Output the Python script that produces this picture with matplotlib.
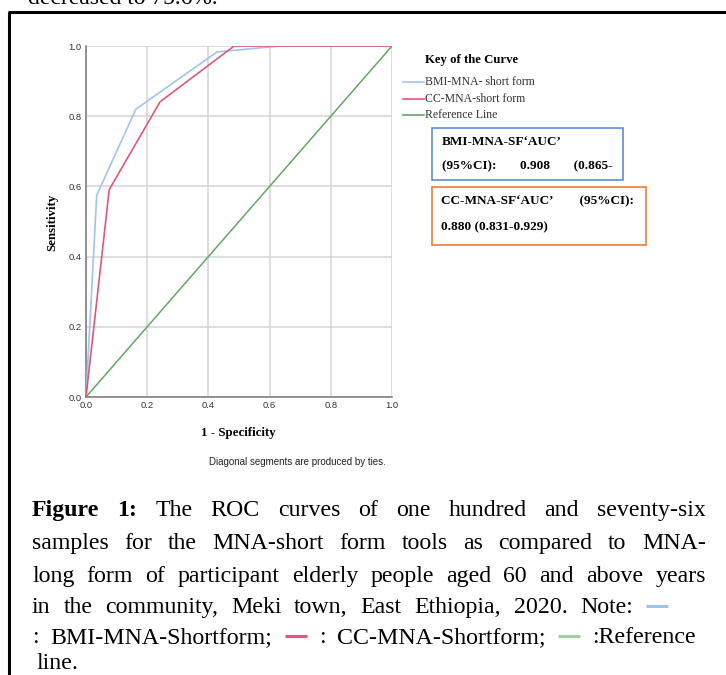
import matplotlib
matplotlib.use("Agg")
import matplotlib.pyplot as plt
import numpy as np

# ROC points
fpr_bmi = [0.0, 0.035, 0.163, 0.428, 0.634, 1.0]
tpr_bmi = [0.0, 0.575, 0.820, 0.983, 1.0, 1.0]
fpr_cc = [0.0, 0.076, 0.242, 0.484, 1.0]
tpr_cc = [0.0, 0.591, 0.841, 1.0, 1.0]
ref_line = [0.0, 1.0]

ticks = [0.0, 0.2, 0.4, 0.6, 0.8, 1.0]
tick_labels = ["0.0", "0.2", "0.4", "0.6", "0.8", "1.0"]

legend_names = ["BMI-MNA- short form", "CC-MNA-short form", "Reference Line"]
col_bmi = "#9fc4f0"
col_cc = "#e2567a"
col_ref = "#62a862"

W, H = 726, 675
fig = plt.figure(figsize=(W / 100, H / 100), dpi=100)
fig.patch.set_facecolor("white")

# background axes in pixel coords for all the page decoration
bg = fig.add_axes([0, 0, 1, 1])
bg.set_xlim(0, W)
bg.set_ylim(H, 0)
bg.axis("off")

ax = fig.add_axes([86 / W, 1 - 397 / H, 306 / W, 351 / H])
ax.plot(fpr_bmi, tpr_bmi, color=col_bmi, lw=1.2, zorder=3)
ax.plot(ref_line, ref_line, color=col_ref, lw=1.1, zorder=3)
ax.plot(fpr_cc, tpr_cc, color=col_cc, lw=1.2, zorder=4)
ax.set_xlim(0, 1)
ax.set_ylim(0, 1)
ax.set_xticks(ticks)
ax.set_yticks(ticks)
ax.set_xticklabels(tick_labels)
ax.set_yticklabels(tick_labels)
ax.grid(True, color="#d4d4d4", lw=1.1)
ax.set_axisbelow(True)
ax.tick_params(length=0, labelsize=6.8, labelcolor="#333333", pad=3)
for lab in ax.get_xticklabels() + ax.get_yticklabels():
    lab.set_family("Liberation Sans")
for s in ["top", "right"]:
    ax.spines[s].set_visible(False)
for s in ["left", "bottom"]:
    ax.spines[s].set_color("#808080")
    ax.spines[s].set_linewidth(1.2)

serif = "Liberation Serif"
bg.text(52, 222, "Sensitivity", rotation=90, ha="center", va="center",
        family=serif, weight="bold", fontsize=9.3)
bg.text(238, 433, "1 - Specificity", ha="center", va="center",
        family=serif, weight="bold", fontsize=9.3)
bg.text(297, 462, "Diagonal segments are produced by ties.", ha="center",
        va="center", family="Liberation Sans", fontsize=7, color="#222222")

# legend
bg.text(425, 60, "Key of the Curve", ha="left", va="center", family=serif,
        weight="bold", fontsize=9.2)
for i, (name, c) in enumerate(zip(legend_names, [col_bmi, col_cc, col_ref])):
    yy = 82 + i * 16.5
    bg.plot([403, 424], [yy, yy], color=c, lw=1.2)
    bg.text(425, yy, name, ha="left", va="center", family=serif,
            fontsize=8.5, color="#333333")

# AUC boxes
bg.add_patch(plt.Rectangle((432, 128), 191, 52, fill=False,
                           edgecolor="#5b8fd6", lw=1.2))
bg.add_patch(plt.Rectangle((432, 187), 214, 58, fill=False,
                           edgecolor="#ed7d31", lw=1.2))
box_kw = dict(ha="left", va="center", family=serif, weight="bold", fontsize=9.5)
bg.text(442, 142, "BMI-MNA-SF\u2018AUC\u2019", **box_kw)
bg.text(442, 166, "(95%CI):       0.908       (0.865-", **box_kw)
bg.text(441, 201, "CC-MNA-SF\u2018AUC\u2019        (95%CI):", **box_kw)
bg.text(441, 227, "0.880 (0.831-0.929)", **box_kw)

# page border and the cut-off line above it
bg.plot([9, 9], [12, H], color="black", lw=2.2, solid_capstyle="butt")
bg.plot([8, W], [12, 12], color="black", lw=2.2, solid_capstyle="butt")
bg.text(28, 4, "decreased to 75.6%.", ha="left", va="baseline", family=serif,
        fontsize=17)

# caption, justified word by word
renderer = fig.canvas.get_renderer()
cap_size = 17.2


def caption_line(tokens, base, x0, x1=None):
    items = []
    total = 0
    for tok in tokens:
        if isinstance(tok, tuple) and tok[0] == "dash":
            items.append(("dash", tok[1], 22))
            total += 22
        else:
            bold = isinstance(tok, tuple) and tok[0] == "bold"
            s = tok[1] if bold else tok
            t = bg.text(0, base, s, ha="left", va="baseline", family=serif,
                        fontsize=cap_size, weight="bold" if bold else "normal")
            w = t.get_window_extent(renderer).width
            items.append(("text", t, w))
            total += w
    if x1 is None or len(items) < 2:
        gap = 5.5
    else:
        gap = (x1 - x0 - total) / (len(items) - 1)
    x = x0
    for kind, obj, w in items:
        if kind == "dash":
            bg.plot([x, x + w], [base - 7, base - 7], color=obj, lw=2.2,
                    solid_capstyle="butt")
        else:
            obj.set_x(x)
        x += w + gap


caption_line([("bold", "Figure"), ("bold", "1:"), "The", "ROC", "curves", "of",
              "one", "hundred", "and", "seventy-six"], 516, 32, 706)
caption_line("samples for the MNA-short form tools as compared to MNA-".split(),
             549, 32, 706)
caption_line("long form of participant elderly people aged 60 and above years".split(),
             582, 32, 706)
caption_line("in the community, Meki town, East Ethiopia, 2020. Note:".split()
             + [("dash", col_bmi)], 613, 32, 668)
caption_line([":", "BMI-MNA-Shortform;", ("dash", col_cc), ":",
              "CC-MNA-Shortform;", ("dash", "#9fd09f"), ":Reference"],
             643, 32, 696)
caption_line(["line."], 669, 36)

fig.savefig("out.png", dpi=100, facecolor="white")
